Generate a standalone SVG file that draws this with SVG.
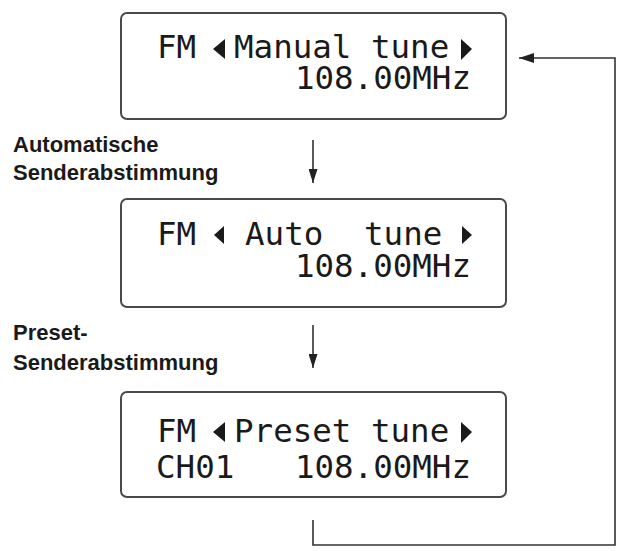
<svg xmlns="http://www.w3.org/2000/svg" width="618" height="551" viewBox="0 0 618 551">
<style>
.box{fill:#fff;stroke:#4a4a4a;stroke-width:2}
.lcd{font-family:"DejaVu Sans Mono","Liberation Mono",monospace;font-size:32.5px;fill:#1a1a1a}
.lbl{font-family:"Liberation Sans",Arial,sans-serif;font-size:22px;font-weight:bold;fill:#1a1a1a}
.tri{fill:#1a1a1a}
.con{fill:none;stroke:#333;stroke-width:1.6}
</style>
<defs>
<marker id="ah" viewBox="0 0 10 10" refX="10" refY="5" markerWidth="14" markerHeight="9" markerUnits="userSpaceOnUse" orient="auto" preserveAspectRatio="none">
<path d="M0,0 L10,5 L0,10 z" fill="#222"/>
</marker>
<marker id="ah2" viewBox="0 0 10 10" refX="10" refY="5" markerWidth="15" markerHeight="10" markerUnits="userSpaceOnUse" orient="auto" preserveAspectRatio="none">
<path d="M0,0 L10,5 L0,10 z" fill="#222"/>
</marker>
</defs>
<rect width="618" height="551" fill="#fff"/>
<g id="node-manual">
<rect class="box" x="121" y="13" width="385" height="106" rx="6"/>
<text class="lcd" x="157" y="58">FM</text>
<polygon class="tri" points="213,49 225,39 225,59"/>
<text class="lcd" x="234" y="58">Manual tune</text>
<polygon class="tri" points="461,39 472,49 461,60"/>
<text class="lcd" x="471" y="89" text-anchor="end">108.00MHz</text>
</g>
<g id="label-auto">
<text class="lbl" x="13" y="152">Automatische</text>
<text class="lbl" x="13" y="180">Senderabstimmung</text>
</g>
<g id="node-auto">
<rect class="box" x="121" y="199" width="385" height="108" rx="6"/>
<text class="lcd" x="157" y="245">FM</text>
<polygon class="tri" points="214,235 224,226 224,244"/>
<text class="lcd" x="245" y="245">Auto</text>
<text class="lcd" x="364" y="245">tune</text>
<polygon class="tri" points="462,226 472,235 462,244"/>
<text class="lcd" x="471" y="277" text-anchor="end">108.00MHz</text>
</g>
<g id="label-preset">
<text class="lbl" x="13" y="340">Preset-</text>
<text class="lbl" x="13" y="370">Senderabstimmung</text>
</g>
<g id="node-preset">
<rect class="box" x="121" y="392" width="385" height="105" rx="6"/>
<text class="lcd" x="157" y="442">FM</text>
<polygon class="tri" points="213,432 225,422 225,442"/>
<text class="lcd" x="234" y="442">Preset tune</text>
<polygon class="tri" points="461,422 472,432 461,443"/>
<text class="lcd" x="156" y="478">CH01</text>
<text class="lcd" x="471" y="478" text-anchor="end">108.00MHz</text>
</g>
<g id="connectors">
<line class="con" x1="313" y1="140" x2="313" y2="183" marker-end="url(#ah)"/>
<line class="con" x1="313" y1="325" x2="313" y2="368" marker-end="url(#ah)"/>
<polyline class="con" points="313,520 313,545 615,545 615,58 519,58" marker-end="url(#ah2)"/>
</g>
</svg>
